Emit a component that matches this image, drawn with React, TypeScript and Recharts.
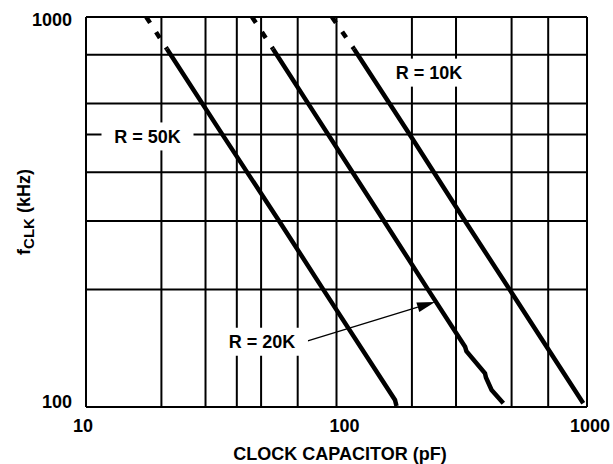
import React from "react";
import {
  LineChart,
  Line,
  XAxis,
  YAxis,
  CartesianGrid,
  ReferenceLine,
  ReferenceDot,
} from "recharts";

const FONT = '"Liberation Sans", Arial, Helvetica, sans-serif';

// log grid: every integer step inside each decade
const xGrid = [10, 20, 30, 40, 50, 60, 70, 80, 90, 100, 200, 300, 400, 500, 600, 700, 800, 900, 1000];
const yGrid = [100, 200, 300, 400, 500, 600, 700, 800, 900, 1000];
const xTicks = [10, 100, 1000];
const yTicks = [100, 1000];

// c = clock capacitor (pF), f = fCLK (kHz)
const r50kTop = [
  { c: 17.4, f: 1000 },
  { c: 21.05, f: 828 },
];
const r50k = [
  { c: 21.05, f: 828 },
  { c: 35, f: 500 },
  { c: 59, f: 300 },
  { c: 88.6, f: 200 },
  { c: 171.2, f: 104.2 },
  { c: 173.6, f: 100.6 },
];

const r20kTop = [
  { c: 46, f: 1000 },
  { c: 55.8, f: 828 },
];
const r20k = [
  { c: 55.8, f: 828 },
  { c: 78.5, f: 589 },
  { c: 145, f: 320 },
  { c: 232, f: 200 },
  { c: 326, f: 142.8 },
  { c: 330, f: 139 },
  { c: 391.5, f: 122 },
  { c: 395, f: 119 },
  { c: 416, f: 110.6 },
  { c: 463.5, f: 102.2 },
];

const r10kTop = [
  { c: 95.9, f: 1000 },
  { c: 117.5, f: 828 },
];
const r10k = [
  { c: 117.5, f: 828 },
  { c: 196, f: 500 },
  { c: 326, f: 300 },
  { c: 491, f: 200 },
  { c: 966, f: 102.2 },
];

const curveLabels = [
  { text: "R = 50K", c: 17.6, f: 494 },
  { text: "R = 10K", c: 234, f: 720 },
  { text: "R = 20K", c: 50.4, f: 147 },
];

// pointer from the "R = 20K" label to its curve
const arrowFrom = { c: 76.2, f: 147.6 };
const arrowTo = { c: 247.4, f: 185.9 };

const xTickShift: Record<number, number> = { 10: -3, 100: 8, 1000: 3 };
const yTickShift: Record<number, number> = { 100: 1, 1000: 8.5 };

const XTick = (props: any) => {
  const { x, y, payload } = props;
  return (
    <text
      x={x + (xTickShift[payload.value] ?? 0)}
      y={y + 25}
      textAnchor="middle"
      fontFamily={FONT}
      fontWeight="bold"
      fontSize={18}
      fill="#000"
    >
      {payload.value}
    </text>
  );
};

const YTick = (props: any) => {
  const { x, y, payload } = props;
  return (
    <text
      x={x - 14}
      y={y + (yTickShift[payload.value] ?? 6)}
      textAnchor="end"
      fontFamily={FONT}
      fontWeight="bold"
      fontSize={18}
      fill="#000"
    >
      {payload.value}
    </text>
  );
};

const xTitle = (props: any) => {
  const vb = props.viewBox;
  return (
    <text
      x={vb.x + vb.width / 2 + 3.5}
      y={vb.y + 53}
      textAnchor="middle"
      fontFamily={FONT}
      fontWeight="bold"
      fontSize={18}
      fill="#000"
    >
      CLOCK CAPACITOR (pF)
    </text>
  );
};

const yTitle = (props: any) => {
  const vb = props.viewBox;
  const cx = vb.x + vb.width - 56.5;
  const cy = vb.y + vb.height / 2;
  return (
    <text
      transform={`rotate(-90 ${cx} ${cy})`}
      x={cx}
      y={cy}
      textAnchor="middle"
      fontFamily={FONT}
      fontWeight="bold"
      fontSize={18}
      fill="#000"
    >
      f
      <tspan fontSize={15} dy={4}>
        CLK
      </tspan>
      <tspan dy={-4}> (kHz)</tspan>
    </text>
  );
};

const boxLabel = (text: string) => (props: any) => {
  const { cx, cy } = props;
  return (
    <g>
      <rect x={cx - 46} y={cy - 14} width={92} height={28} fill="#fff" />
      <text
        x={cx}
        y={cy + 6.5}
        textAnchor="middle"
        fontFamily={FONT}
        fontWeight="bold"
        fontSize={18}
        fill="#000"
      >
        {text}
      </text>
    </g>
  );
};

const arrowShape = (props: any) => {
  const { x1, y1, x2, y2 } = props;
  const ang = Math.atan2(y2 - y1, x2 - x1);
  const len = 18;
  const half = 5;
  const bx = x2 - len * Math.cos(ang);
  const by = y2 - len * Math.sin(ang);
  const px = -Math.sin(ang) * half;
  const py = Math.cos(ang) * half;
  return (
    <g>
      <line x1={x1} y1={y1} x2={bx} y2={by} stroke="#000" strokeWidth={1.3} />
      <polygon
        points={`${x2},${y2} ${bx + px},${by + py} ${bx - px},${by - py}`}
        fill="#000"
      />
    </g>
  );
};

export default function App() {
  const solid = { stroke: "#000", strokeWidth: 4.5, dot: false, activeDot: false, isAnimationActive: false, type: "linear" as const };
  const dashed = { ...solid, strokeDasharray: "7 11" };

  return (
    <div style={{ position: "absolute", left: 0, top: 0, background: "#fff" }}>
      <LineChart width={613} height={464} margin={{ top: 17, right: 26, left: 26, bottom: 27 }}>
        <CartesianGrid
          stroke="#000"
          strokeWidth={2}
          verticalValues={xGrid}
          horizontalValues={yGrid}
        />
        <XAxis
          dataKey="c"
          type="number"
          scale="log"
          domain={[10, 1000]}
          ticks={xTicks}
          allowDataOverflow
          axisLine={false}
          tickLine={false}
          tickSize={0}
          tickMargin={0}
          height={30}
          tick={<XTick />}
          label={xTitle}
        />
        <YAxis
          type="number"
          scale="log"
          domain={[100, 1000]}
          ticks={yTicks}
          allowDataOverflow
          axisLine={false}
          tickLine={false}
          tickSize={0}
          tickMargin={0}
          width={60}
          tick={<YTick />}
          label={yTitle}
        />
        <Line data={r50kTop} dataKey="f" {...dashed} />
        <Line data={r50k} dataKey="f" {...solid} />
        <Line data={r20kTop} dataKey="f" {...dashed} />
        <Line data={r20k} dataKey="f" {...solid} />
        <Line data={r10kTop} dataKey="f" {...dashed} />
        <Line data={r10k} dataKey="f" {...solid} />
        <ReferenceLine
          segment={[
            { x: arrowFrom.c, y: arrowFrom.f },
            { x: arrowTo.c, y: arrowTo.f },
          ]}
          shape={arrowShape}
        />
        {curveLabels.map((l) => (
          <ReferenceDot key={l.text} x={l.c} y={l.f} r={1} shape={boxLabel(l.text)} />
        ))}
      </LineChart>
    </div>
  );
}
